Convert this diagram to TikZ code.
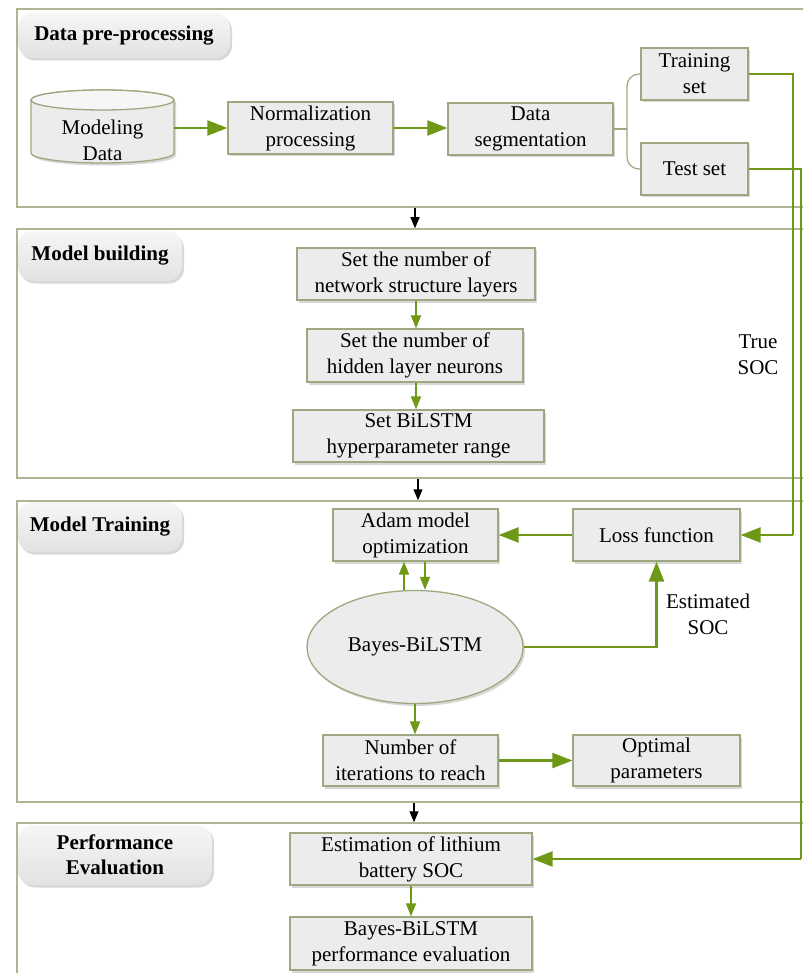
\documentclass[tikz,border=0pt]{standalone}
\usepackage{fontspec}
\setmainfont{Liberation Serif}
\usetikzlibrary{arrows.meta,shadows,shapes.geometric}
\definecolor{panelline}{RGB}{172,182,146}
\definecolor{boxline}{RGB}{158,168,128}
\definecolor{boxfill}{RGB}{236,236,236}
\definecolor{flow}{RGB}{110,152,22}
\definecolor{tabtop}{RGB}{246,246,246}
\definecolor{tabbot}{RGB}{226,226,226}

\begin{document}
\begin{tikzpicture}[x=1pt,y=-1pt,
  every node/.style={font=\fontsize{21}{26}\selectfont, align=center, inner sep=0pt},
  softshadow/.style={drop shadow={opacity=0.3, shadow xshift=2pt, shadow yshift=-2.5pt}},
  panel/.style={draw=panelline, line width=1.5pt, fill=white},
  tab/.style={rounded corners=15pt, top color=tabtop, bottom color=tabbot,
    font=\fontsize{21}{25}\selectfont\bfseries, softshadow},
  procbox/.style={draw=boxline, line width=1.3pt, fill=boxfill, softshadow},
  flowbig/.style={draw=flow, line width=2.4pt, -{Triangle[length=20pt,width=15pt]}},
  flowsmall/.style={draw=flow, line width=1.7pt, -{Triangle[length=13pt,width=10pt]}},
  flowplain/.style={draw=flow, line width=2.4pt},
  stagearrow/.style={draw=black, line width=1.2pt, -{Triangle[length=11pt,width=9pt]}},
  bracketline/.style={draw=boxline, line width=1.2pt, rounded corners=12pt}
]
\useasboundingbox (0,0) rectangle (803,973);
\clip (0,0) rectangle (803,973);

% stage panels (their right edges run past the page)
\node[panel, minimum width=813pt, minimum height=198pt] (pre)   at (423.5,108) {};
\node[panel, minimum width=813pt, minimum height=249pt] (build) at (423.5,353.5) {};
\node[panel, minimum width=813pt, minimum height=301pt] (train) at (423.5,651.5) {};
\node[panel, minimum width=813pt, minimum height=177pt] (eval)  at (423.5,911.5) {};

% stage titles
\node[tab, minimum width=212pt, minimum height=45pt] (tabpre)   at (124,35.5) {Data pre-processing};
\node[tab, minimum width=164pt, minimum height=50pt] (tabbuild) at (100,256) {Model building};
\node[tab, minimum width=164pt, minimum height=50pt] (tabtrain) at (100,527) {Model Training};
\node[tab, minimum width=194pt, minimum height=60pt] (tabeval)  at (115,855) {Performance\\Evaluation};

% data store
\path[draw=boxline, line width=1.3pt, fill=boxfill, softshadow]
  (31,100) -- (31,153)
  .. controls (31,158.52) and (63,163) .. (102.5,163)
  .. controls (142,163) and (174,158.52) .. (174,153)
  -- (174,100)
  .. controls (174,94.48) and (142,90) .. (102.5,90)
  .. controls (63,90) and (31,94.48) .. (31,100) -- cycle;
\path[draw=boxline, line width=1.3pt, fill=tabtop] (102.5,100) ellipse [x radius=71.5, y radius=10];
\node[minimum width=143pt, minimum height=73pt] (cyl) at (102.5,126.5) {};
\node (cyltext) at (102.5,140) {Modeling\\Data};

% pre-processing
\node[procbox, minimum width=165pt, minimum height=52pt] (norm) at (310.5,128) {Normalization\\processing};
\node[procbox, minimum width=165pt, minimum height=52pt] (seg)  at (530.5,129) {Data\\segmentation};
\node[procbox, minimum width=107pt, minimum height=52pt] (trainset) at (694.5,74) {Training\\set};
\node[procbox, minimum width=107pt, minimum height=52pt] (testset)  at (694.5,169) {Test set};

% model building
\node[procbox, minimum width=238pt, minimum height=52pt] (layers)  at (416,274) {Set the number of\\network structure layers};
\node[procbox, minimum width=216pt, minimum height=53pt] (neurons) at (415,355.5) {Set the number of\\hidden layer neurons};
\node[procbox, minimum width=251pt, minimum height=52pt] (range)   at (418.5,436) {Set BiLSTM\\hyperparameter range};

% model training
\node[procbox, minimum width=165pt, minimum height=52pt] (adam) at (415.5,535) {Adam model\\optimization};
\node[procbox, minimum width=167pt, minimum height=52pt] (loss) at (656.5,535) {Loss function};
\node[procbox, ellipse, minimum width=216pt, minimum height=113pt] (bayes) at (415,647) {Bayes-BiLSTM};
\node[procbox, minimum width=175pt, minimum height=51pt] (iter)    at (410.5,760.5) {Number of\\iterations to reach};
\node[procbox, minimum width=167pt, minimum height=51pt] (optimal) at (656.5,760.5) {Optimal\\parameters};

% evaluation
\node[procbox, minimum width=242pt, minimum height=52pt] (estim) at (411,859) {Estimation of lithium\\battery SOC};
\node[procbox, minimum width=242pt, minimum height=53pt] (perf)  at (411,943.5) {Bayes-BiLSTM\\performance evaluation};

% side labels
\node (truelbl) at (758,355) {True\\SOC};
\node (estlbl)  at (708,614) {Estimated\\SOC};

% routing points
\coordinate (split) at (627,129);
\coordinate (truebend) at (793,535);
\coordinate (testbend) at (801,859);
\coordinate (handA) at (415,0);
\coordinate (handB) at (418,0);
\coordinate (handC) at (414,0);

% pre-processing flow
\draw[flowbig] (cyl.east |- norm.west) -- (norm.west);
\draw[flowbig] (norm.east) -- (norm.east -| seg.west);
\draw[bracketline] (seg.east |- split) -- (split);
\draw[bracketline] (trainset.west) -| (split) |- (testset.west);

% true SOC feeds
\draw[flowplain] (trainset.east) -| (truebend);
\draw[flowbig] (truebend) -- (loss.east);
\draw[flowplain] (testset.east) -| (testbend);
\draw[flowbig] (testbend) -- (estim.east);

% model building flow
\draw[flowsmall] (layers.south) -- (layers.south |- neurons.north);
\draw[flowsmall] (neurons.south -| layers.south) -- (layers.south |- range.north);

% training flow
\draw[flowbig] (loss.west) -- (adam.east);
\draw[flowsmall] ([xshift=-11pt]bayes.north) -- ([xshift=-11.5pt]adam.south);
\draw[flowsmall] ([xshift=9.5pt]adam.south) -- ([xshift=10pt]bayes.north);
\draw[flowbig] (bayes.east) -| (loss.south);
\draw[flowsmall] (bayes.south) -- (bayes.south |- iter.north);
\draw[flowbig] (iter.east |- optimal.west) -- (optimal.west);

% evaluation flow
\draw[flowsmall] (estim.south) -- (perf.north);

% stage hand-over
\draw[stagearrow] (pre.south -| handA) -- (build.north -| handA);
\draw[stagearrow] (build.south -| handB) -- (train.north -| handB);
\draw[stagearrow] (train.south -| handC) -- (eval.north -| handC);
\end{tikzpicture}
\end{document}
